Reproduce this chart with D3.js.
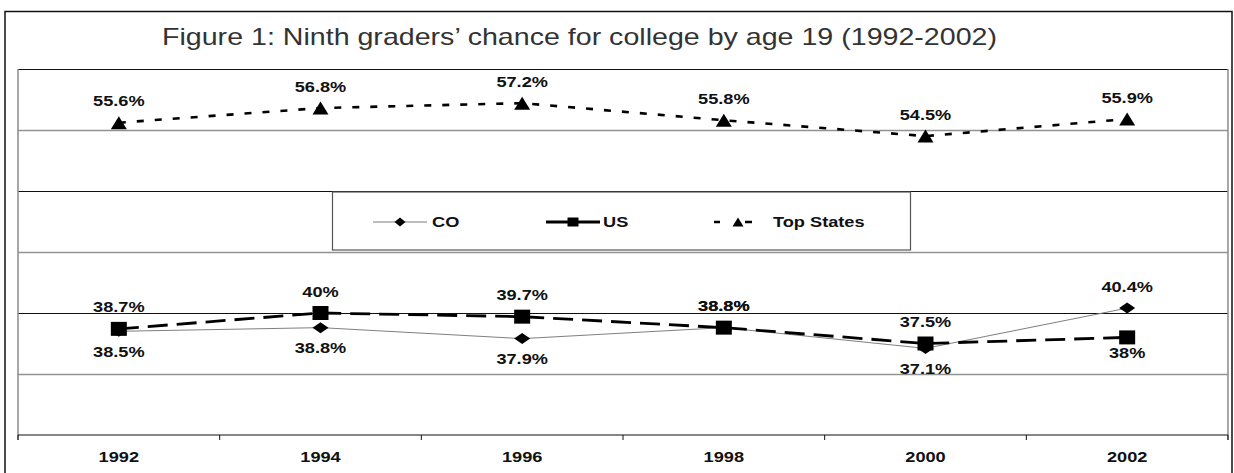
<!DOCTYPE html>
<html>
<head>
<meta charset="utf-8">
<script src="https://cdn.jsdelivr.net/npm/d3@7"></script>
<style>
  body { margin: 0; background: #fff; }
  svg { display: block; }
  text { font-family: "Liberation Sans", Arial, Helvetica, sans-serif; }
</style>
</head>
<body>
<svg id="chart"></svg>
<script>
var years = ["1992", "1994", "1996", "1998", "2000", "2002"];
var coValues = [38.5, 38.8, 37.9, 38.8, 37.1, 40.4];
var usValues = [38.7, 40, 39.7, 38.8, 37.5, 38];
var topValues = [55.6, 56.8, 57.2, 55.8, 54.5, 55.9];
var yTicks = [35, 40, 45, 50, 55, 60];

var width = 1234,
    height = 473,
    plotLeft = 18,
    plotRight = 1228,
    plotTop = 69,
    plotBottom = 435,
    stretch = 1.3;

var svg = d3.select("#chart")
    .attr("width", width)
    .attr("height", height);

svg.append("rect")
    .attr("width", width)
    .attr("height", height)
    .attr("fill", "#fff");

// outer frame (bottom edge is off the picture)
svg.append("path")
    .attr("d", "M5,480V11.5H1232V480")
    .attr("fill", "none")
    .attr("stroke", "#111")
    .attr("stroke-width", 1.5);

svg.append("text")
    .attr("x", 162)
    .attr("y", 45)
    .attr("font-size", 24)
    .attr("fill", "#333")
    .attr("textLength", 835)
    .attr("lengthAdjust", "spacingAndGlyphs")
    .text("Figure 1: Ninth graders\u2019 chance for college by age 19 (1992-2002)");

var x = d3.scaleBand().domain(years).range([plotLeft, plotRight]);
var y = d3.scaleLinear().domain([30, 60]).range([plotBottom, plotTop]);
var cx = function (d) { return x(d) + x.bandwidth() / 2; };

// gridlines
var grid = svg.append("g")
    .attr("transform", "translate(" + plotLeft + ",0)")
    .call(d3.axisLeft(y).tickValues(yTicks).tickSize(-(plotRight - plotLeft)).tickFormat(""));
grid.select(".domain").remove();
grid.selectAll(".tick line")
    .attr("stroke", function (d) { return d % 10 === 0 ? "#111" : "#929292"; })
    .attr("stroke-width", function (d) { return d % 10 === 0 ? 1 : 1.6; });

// plot side borders
[plotLeft, plotRight].forEach(function (px) {
    svg.append("line")
        .attr("x1", px).attr("x2", px)
        .attr("y1", plotTop).attr("y2", plotBottom + 5)
        .attr("stroke", "#929292")
        .attr("stroke-width", 1.6);
});

// x axis
var xAxis = svg.append("g")
    .attr("transform", "translate(0," + plotBottom + ")")
    .call(d3.axisBottom(x).tickSize(0));
xAxis.select(".domain").remove();
xAxis.selectAll(".tick text")
    .attr("y", 27)
    .attr("dy", 0)
    .attr("transform", "scale(" + stretch + ",1)")
    .attr("font-size", 14)
    .attr("font-weight", "bold")
    .attr("font-family", "Liberation Sans, Arial, sans-serif")
    .attr("fill", "#111");

xAxis.append("line")
    .attr("x1", plotLeft).attr("x2", plotRight)
    .attr("stroke", "#111")
    .attr("stroke-width", 1.2);

xAxis.selectAll(".edge")
    .data(years.map(function (d) { return x(d); }).concat([plotRight]))
    .enter().append("line")
    .attr("class", "edge")
    .attr("x1", function (d) { return d; })
    .attr("x2", function (d) { return d; })
    .attr("y1", 0).attr("y2", 5)
    .attr("stroke", "#111");

// markers
function markerPath(shape, w, h) {
    if (shape === "diamond") return "M0," + (-h / 2) + "L" + (w / 2) + ",0L0," + (h / 2) + "L" + (-w / 2) + ",0Z";
    if (shape === "square") return "M" + (-w / 2) + "," + (-h / 2) + "h" + w + "v" + h + "h" + (-w) + "Z";
    return "M0," + (-h / 2) + "L" + (w / 2) + "," + (h / 2) + "L" + (-w / 2) + "," + (h / 2) + "Z";
}

var series = [
    { name: "CO", values: coValues, shape: "diamond", mw: 16, mh: 11, stroke: "#7f7f7f", width: 1, dash: null, below: 25.5 },
    { name: "US", values: usValues, shape: "square", mw: 16, mh: 14, stroke: "#000", width: 2.8, dash: "20,9", below: 21 },
    { name: "Top States", values: topValues, shape: "triangle", mw: 16, mh: 13, stroke: "#000", width: 2.6, dash: "7,11", below: 25 }
];

// legend box
var legendY = 222;
svg.append("rect")
    .attr("x", 332.5).attr("y", 192)
    .attr("width", 578).attr("height", 58)
    .attr("fill", "#fff")
    .attr("stroke", "#555")
    .attr("stroke-width", 1.2);

var legendItems = [
    { x0: 373, x1: 427, mx: 400, tx: 432, dash: null },
    { x0: 546, x1: 600, mx: 573, tx: 603, dash: null },
    { x0: 714, x1: 752, mx: 738, tx: 773, dash: "6,25,7" }
];

series.forEach(function (s, k) {
    var li = legendItems[k];
    svg.append("line")
        .attr("x1", li.x0).attr("x2", li.x1)
        .attr("y1", legendY).attr("y2", legendY)
        .attr("stroke", s.stroke)
        .attr("stroke-width", s.width)
        .attr("stroke-dasharray", li.dash);
    svg.append("path")
        .attr("d", markerPath(s.shape, 11, 9))
        .attr("transform", "translate(" + li.mx + "," + legendY + ")")
        .attr("fill", "#000");
    svg.append("text")
        .attr("transform", "translate(" + li.tx + "," + (legendY + 5) + ") scale(" + stretch + ",1)")
        .attr("font-size", 14)
        .attr("font-weight", "bold")
        .attr("fill", "#111")
        .text(s.name);
});

// lines and markers
var line = d3.line()
    .x(function (d, i) { return cx(years[i]); })
    .y(function (d) { return y(d); });

series.forEach(function (s) {
    svg.append("path")
        .attr("d", line(s.values))
        .attr("fill", "none")
        .attr("stroke", s.stroke)
        .attr("stroke-width", s.width)
        .attr("stroke-dasharray", s.dash);

    svg.append("g").selectAll("path")
        .data(s.values)
        .enter().append("path")
        .attr("d", markerPath(s.shape, s.mw, s.mh))
        .attr("transform", function (d, i) { return "translate(" + cx(years[i]) + "," + y(d) + ")"; })
        .attr("fill", "#000");
});

// data labels: higher of CO/US goes above, the lower one below
function above(s, i) {
    if (s.name === "Top States") return true;
    var other = s.name === "CO" ? usValues[i] : coValues[i];
    return s.values[i] >= other;
}

series.forEach(function (s) {
    svg.append("g").selectAll("text")
        .data(s.values)
        .enter().append("text")
        .attr("transform", function (d, i) {
            var ly = above(s, i) ? y(d) - 16.5 : y(d) + s.below;
            return "translate(" + cx(years[i]) + "," + ly + ") scale(" + stretch + ",1)";
        })
        .attr("text-anchor", "middle")
        .attr("font-size", 14)
        .attr("font-weight", "bold")
        .attr("fill", "#111")
        .text(function (d) { return d + "%"; });
});
</script>
</body>
</html>
